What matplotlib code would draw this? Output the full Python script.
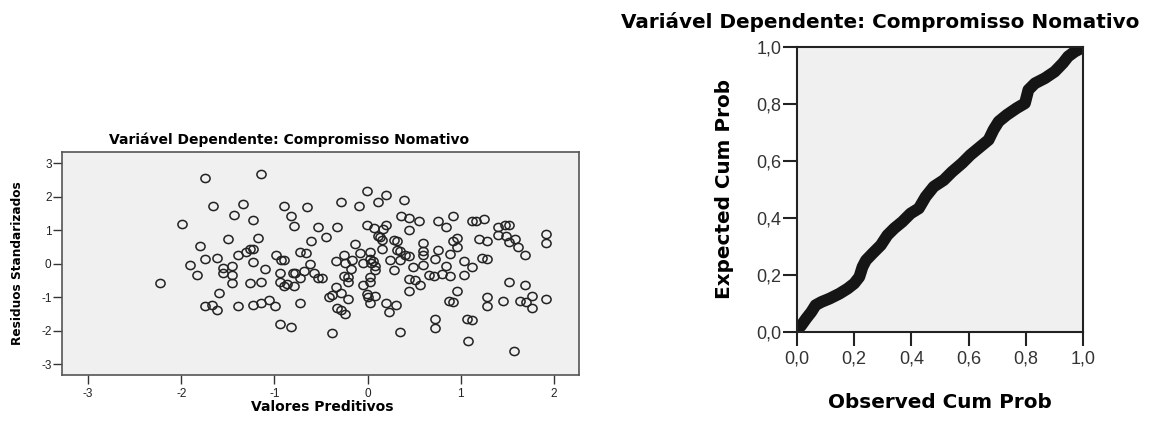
import numpy as np
import matplotlib
matplotlib.use("Agg")
import matplotlib.pyplot as plt
from matplotlib.path import Path
from matplotlib.transforms import Affine2D

plt.rcParams['font.family'] = ['Liberation Sans', 'DejaVu Sans']
plt.rcParams['axes.unicode_minus'] = False

title = "Variável Dependente: Compromisso Nomativo"
bold_font = ['DejaVu Sans']

# residuals vs predicted values
pred = [-2.23, -1.99, -1.91, -1.83, -1.80, -1.75, -1.74, -1.75, -1.67, -1.66,
        -1.62, -1.62, -1.59, -1.55, -1.55, -1.50, -1.46, -1.46, -1.46, -1.43,
        -1.39, -1.39, -1.34, -1.31, -1.26, -1.26, -1.23, -1.23, -1.23, -1.23,
        -1.18, -1.14, -1.14, -1.14, -1.10, -1.06, -0.99, -0.98, -0.94, -0.93,
        -0.94, -0.94, -0.90, -0.90, -0.90, -0.82, -0.82, -0.79, -0.80, -0.79,
        -0.86,
        -0.65, -0.61, -0.53, -0.45, -0.33, -0.29, -0.09, -0.01, 0.11, 0.20,
        0.39, -0.01, 0.07, 0.13, 0.17, 0.20, 0.11, 0.15, 0.28, 0.32,
        0.36, 0.44, 0.44, 0.55, 0.76, 0.84, 0.92, 1.12, 1.16, 1.25,
        0.92, 0.96, 0.96, 1.20, 1.28, 1.40, 1.48, 1.52, 1.40, 1.49,
        1.52, 1.58, 1.61, 1.69, 1.92, 1.92, 1.92, 1.23, 1.28, 0.60,
        0.60, 0.60, 0.60, 0.72, 0.76, 0.88, 0.84, 0.80, 0.88, 1.04,
        1.12, 1.04, 0.66, 0.71, 0.49, 0.45, 0.51, 0.56, 0.44, 0.96,
        0.87, 0.92, 0.72, 0.72, 1.07, 1.12, 1.08, 1.28, 1.28, 1.45,
        1.52, 1.69, 1.64, 1.70, 1.77, 1.77, 1.57, 0.35, -0.38, 0.28,
        0.35, 0.40, 0.44, 0.32, 0.24, 0.35, -0.13, -0.08, -0.05, 0.03,
        0.03, 0.04, 0.08, 0.08, 0.06, 0.03, 0.03, -0.05, -0.01, 0.00,
        0.08, 0.03, 0.20, 0.31, 0.23, -0.25, -0.24, -0.17, -0.18, -0.34,
        -0.25, -0.21, -0.21, -0.34, -0.29, -0.38, -0.41, -0.21, -0.33, -0.29,
        -0.24, -0.49, -0.57, -0.62, -0.66, -0.73, -0.68, -0.78, -0.73, -0.53,
        -0.73, 0.16]
resid = [-0.58, 1.19, -0.03, -0.33, 0.54, 2.56, 0.14, -1.27, -1.22, 1.74,
         -1.37, 0.17, -0.88, -0.13, -0.28, 0.75, -0.06, -0.32, -0.58, 1.45,
         0.27, -1.27, 1.79, 0.34, 0.44, -0.58, 0.44, 0.04, 1.31, -1.24,
         0.78, 2.68, -0.53, -1.17, -0.16, -1.09, -1.26, 0.25, -1.81, 0.12,
         -0.28, -0.53, 1.74, 0.10, -0.66, -1.89, 1.44, 1.14, -0.28, -0.66,
         -0.60,
         1.71, 0.67, 1.11, 0.80, 1.11, 1.86, 1.72, 2.19, 1.86, 2.06,
         1.91, 1.15, 1.07, 0.80, 1.03, 1.15, 0.82, 0.70, 0.72, 0.68,
         1.42, 1.37, 1.00, 1.29, 1.29, 1.09, 1.43, 1.29, 1.27, 1.34,
         0.67, 0.77, 0.50, 0.73, 0.67, 1.09, 1.17, 1.16, 0.85, 0.82,
         0.65, 0.75, 0.50, 0.27, 0.90, 0.63, -1.04, 0.18, 0.15, 0.62,
         0.37, 0.25, -0.03, 0.15, 0.40, 0.30, -0.06, -0.30, -0.35, 0.07,
         -0.10, -0.32, -0.33, -0.37, -0.10, -0.45, -0.47, -0.64, -0.82, -0.80,
         -1.11, -1.14, -1.65, -1.91, -1.64, -1.67, -2.29, -1.00, -1.27, -1.11,
         -0.53, -0.63, -1.11, -1.14, -0.95, -1.32, -2.61, -2.05, -2.07, -0.18,
         0.12, 0.25, 0.22, 0.40, 0.10, 0.38, 0.58, 0.32, 0.02, 0.35,
         0.15, 0.02, -0.05, -0.18, 0.08, -0.40, -0.55, -0.62, -0.90, -1.00,
         -0.95, -1.17, -1.17, -1.24, -1.44, 0.25, 0.02, 0.10, -0.15, 0.08,
         -0.35, -0.40, -0.55, -0.68, -0.88, -0.92, -1.00, -1.04, -1.32, -1.37,
         -1.49, -0.43, -0.28, 0.00, 0.32, 0.35, -0.20, -0.27, -1.17, -0.43,
         -0.41, 0.43]

# normal P-P plot
obs_cum = [0.000, 0.015, 0.032, 0.050, 0.065, 0.085, 0.114, 0.148, 0.177, 0.200,
           0.218, 0.229, 0.241, 0.264, 0.293, 0.316, 0.340, 0.368, 0.397, 0.426,
           0.450, 0.478, 0.513, 0.542, 0.577, 0.606, 0.641, 0.670, 0.687, 0.705,
           0.733, 0.768, 0.797, 0.809, 0.832, 0.867, 0.901, 0.930, 0.948, 0.971,
           0.994]
exp_cum = [0.006, 0.023, 0.047, 0.070, 0.094, 0.105, 0.117, 0.134, 0.152, 0.170,
           0.193, 0.228, 0.251, 0.275, 0.304, 0.339, 0.363, 0.386, 0.415, 0.433,
           0.474, 0.509, 0.532, 0.561, 0.591, 0.620, 0.649, 0.673, 0.708, 0.737,
           0.760, 0.784, 0.801, 0.848, 0.871, 0.889, 0.912, 0.942, 0.965, 0.982,
           0.994]

W, H = 1155, 425
fig = plt.figure(figsize=(W / 100, H / 100), dpi=100)

# --- scatter of standardized residuals ---
ax1 = fig.add_axes([62 / W, 1 - 375 / H, (579 - 62) / W, (375 - 152) / H])
ax1.set_facecolor('#f0f0f0')
ring = Path.unit_circle().transformed(Affine2D().scale(1.12, 1.0))
ax1.plot(pred, resid, linestyle='none', marker=ring, markersize=6.6,
         markerfacecolor='none', markeredgecolor='#222222', markeredgewidth=1.1)
ax1.set_xlim(-3.28, 2.27)
ax1.set_ylim(-3.32, 3.34)
ax1.set_xticks([-3, -2, -1, 0, 1, 2])
ax1.set_yticks([-3, -2, -1, 0, 1, 2, 3])
ax1.tick_params(length=6.5, width=1.0, color='#333333', labelsize=8.5,
                labelcolor='#222222', pad=1)
ax1.tick_params(axis='x', pad=3)
for s in ax1.spines.values():
    s.set_color('#555555')
    s.set_linewidth(1.2)
fig.text(322 / W, 1 - 407 / H, "Valores Preditivos", family=bold_font,
         fontsize=10, fontweight='bold', ha='center', va='center')
fig.text(18 / W, 1 - 263 / H, "Residuos Standarizados", rotation=90,
         family=bold_font, fontsize=8.7, fontweight='bold',
         ha='center', va='center')
fig.text(289 / W, 1 - 140 / H, title, family=bold_font, fontsize=10,
         fontweight='bold', ha='center', va='center')

# --- P-P plot ---
ax2 = fig.add_axes([797 / W, 1 - 332 / H, (1083 - 797) / W, (332 - 46.5) / H])
ax2.set_facecolor('#f0f0f0')
ax2.plot(obs_cum, exp_cum, color='#151515', lw=8.5,
         solid_capstyle='round', solid_joinstyle='round')
ax2.set_xlim(0, 1)
ax2.set_ylim(0, 1)
ticks = [0.0, 0.2, 0.4, 0.6, 0.8, 1.0]
labels = [f"{t:.1f}".replace('.', ',') for t in ticks]
ax2.set_xticks(ticks, labels)
ax2.set_yticks(ticks, labels)
ax2.tick_params(length=10, width=1.5, color='#222222', labelsize=13,
                labelcolor='#333333', pad=1)
ax2.tick_params(axis='x', pad=3)
for s in ax2.spines.values():
    s.set_color('#222222')
    s.set_linewidth(1.5)
fig.text(940 / W, 1 - 403 / H, "Observed Cum Prob", family=bold_font,
         fontsize=14.4, fontweight='bold', ha='center', va='center')
fig.text(724 / W, 1 - 189 / H, "Expected Cum Prob", rotation=90,
         family=bold_font, fontsize=14.4, fontweight='bold',
         ha='center', va='center')
fig.text(880 / W, 1 - 22 / H, title, family=bold_font, fontsize=14.4,
         fontweight='bold', ha='center', va='center')

fig.savefig("out.png", dpi=100)
